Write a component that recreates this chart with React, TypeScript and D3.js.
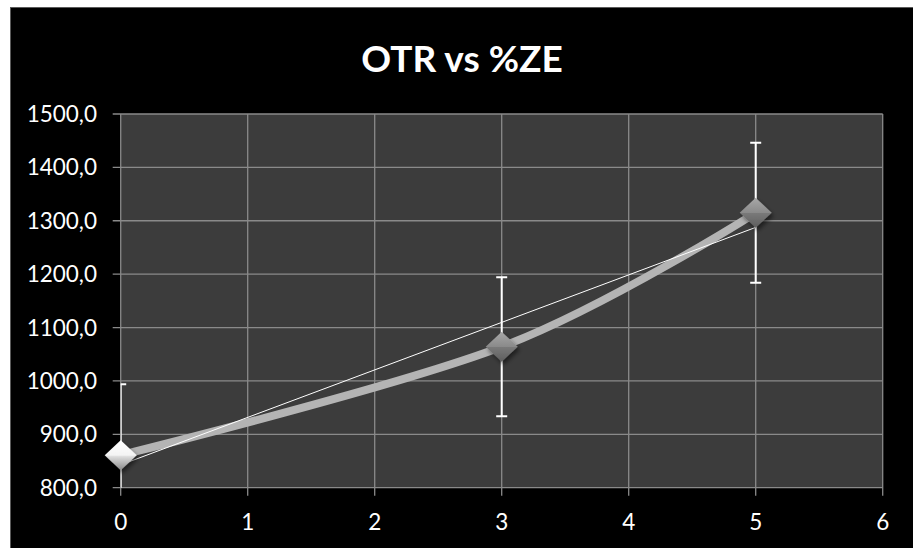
import React from "react";
import * as d3 from "d3";

const xValues = [0, 3, 5];
const yValues = [861, 1064, 1315];
const yErrors = [133, 130, 131];
const xTicks = [0, 1, 2, 3, 4, 5, 6];
const yTicks = [800, 900, 1000, 1100, 1200, 1300, 1400, 1500];
const title = "OTR vs %ZE";

const W = 913;
const H = 548;
const plot = { left: 120.7, right: 882.7, top: 114, bottom: 487.7 };
const FONT = "Lato, 'Open Sans', sans-serif";

export default function App() {
  const x = d3.scaleLinear().domain([0, 6]).range([plot.left, plot.right]);
  const y = d3.scaleLinear().domain([800, 1500]).range([plot.bottom, plot.top]);

  const pts: [number, number][] = xValues.map((v, i) => [x(v), y(yValues[i])]);
  const smooth = d3.line().curve(d3.curveCardinal.tension(0))(pts) || "";

  // least-squares linear trendline
  const n = xValues.length;
  const mx = d3.mean(xValues) as number;
  const my = d3.mean(yValues) as number;
  let sxy = 0, sxx = 0;
  for (let i = 0; i < n; i++) {
    sxy += (xValues[i] - mx) * (yValues[i] - my);
    sxx += (xValues[i] - mx) ** 2;
  }
  const slope = sxy / sxx;
  const intercept = my - slope * mx;
  const x0 = d3.min(xValues) as number;
  const x1 = d3.max(xValues) as number;

  const fmt = (v: number) => v.toFixed(1).replace(".", ",");
  const dw = 16;
  const dh = 15;
  const diamond = (cx: number, cy: number) =>
    `M${cx},${cy - dh}L${cx + dw},${cy}L${cx},${cy + dh}L${cx - dw},${cy}Z`;

  return (
    <svg width={W} height={H} style={{ position: "absolute", left: 0, top: 0 }}>
      <defs>
        <clipPath id="plotClip">
          <rect x={plot.left} y={plot.top} width={plot.right - plot.left} height={plot.bottom - plot.top} />
        </clipPath>
        <linearGradient id="gGray" x1="0" y1="0" x2="0" y2="1">
          <stop offset="0" stopColor="#a8a8a8" />
          <stop offset="0.5" stopColor="#8a8a8a" />
          <stop offset="0.5" stopColor="#7a7a7a" />
          <stop offset="1" stopColor="#5e5e5e" />
        </linearGradient>
        <linearGradient id="gWhite" x1="0" y1="0" x2="0" y2="1">
          <stop offset="0" stopColor="#ffffff" />
          <stop offset="0.5" stopColor="#f4f4f4" />
          <stop offset="0.55" stopColor="#dcdcdc" />
          <stop offset="1" stopColor="#8a8a8a" />
        </linearGradient>
        <filter id="shadow" x="-50%" y="-50%" width="200%" height="200%">
          <feDropShadow dx="2" dy="3" stdDeviation="2" floodColor="#000" floodOpacity="0.5" />
        </filter>
      </defs>
      <rect x={0} y={0} width={W} height={H} fill="#ffffff" />
      <rect x={10.5} y={7.5} width={W} height={H} fill="#000000" stroke="#5a5a5a" strokeWidth={1} />

      <text x={462} y={72} textAnchor="middle" fill="#ffffff" fontFamily={FONT} fontWeight="bold" fontSize={37}>
        {title}
      </text>

      <rect x={plot.left} y={plot.top} width={plot.right - plot.left} height={plot.bottom - plot.top} fill="#3c3c3c" />

      {yTicks.map((t) => (
        <g key={"y" + t}>
          <line x1={plot.left - 8} x2={plot.right} y1={y(t)} y2={y(t)} stroke="#8a8a8a" strokeWidth={1.3} />
          <text x={97} y={y(t)} dy="0.36em" textAnchor="end" fill="#ffffff" fontFamily={FONT} fontSize={22.5}>
            {fmt(t)}
          </text>
        </g>
      ))}
      {xTicks.map((t) => (
        <g key={"x" + t}>
          <line x1={x(t)} x2={x(t)} y1={plot.top} y2={plot.bottom + 8} stroke="#8a8a8a" strokeWidth={1.3} />
          <text x={x(t)} y={530} textAnchor="middle" fill="#ffffff" fontFamily={FONT} fontSize={22.5}>
            {t}
          </text>
        </g>
      ))}

      <g clipPath="url(#plotClip)">
        {xValues.map((v, i) => {
          const cx = x(v);
          const top = y(yValues[i] + yErrors[i]);
          const bot = y(yValues[i] - yErrors[i]);
          return (
            <g key={"e" + i} stroke="#ffffff" strokeWidth={2}>
              <line x1={cx} x2={cx} y1={top} y2={bot} />
              <line x1={cx - 5.5} x2={cx + 5.5} y1={top} y2={top} />
              <line x1={cx - 5.5} x2={cx + 5.5} y1={bot} y2={bot} />
            </g>
          );
        })}
      </g>

      <path d={smooth} fill="none" stroke="#b4b4b4" strokeWidth={8} strokeLinecap="round" />
      <line
        x1={x(x0)}
        y1={y(intercept + slope * x0)}
        x2={x(x1)}
        y2={y(intercept + slope * x1)}
        stroke="#ffffff"
        strokeWidth={1}
      />

      {pts.map(([cx, cy], i) => (
        <path key={"m" + i} d={diamond(cx, cy)} fill={i === 0 ? "url(#gWhite)" : "url(#gGray)"} filter="url(#shadow)" />
      ))}
    </svg>
  );
}
